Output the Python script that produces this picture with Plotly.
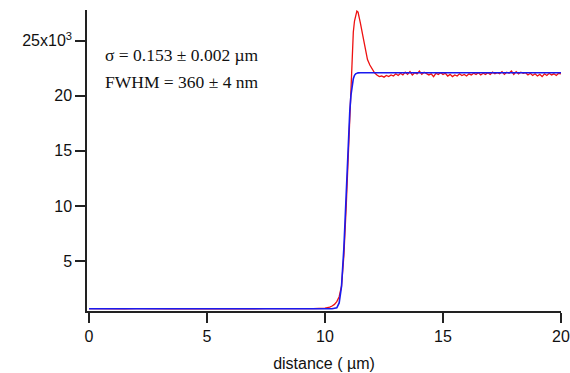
import plotly.graph_objects as go

# ---- data ----
red_base_x = [0, 0.5, 1, 1.5, 2, 2.5, 3, 3.5, 4, 4.5, 5, 5.5, 6, 6.5, 7, 7.5, 8, 8.5, 9, 9.5]
red_base_y = [660, 640, 670, 650, 660, 640, 665, 650, 655, 645, 660, 650, 640, 665, 650, 660, 645, 655, 660, 670]

red_edge_x = [10.0, 10.1, 10.2, 10.3, 10.4, 10.5, 10.6, 10.7, 10.8, 10.9, 11.0, 11.05, 11.1, 11.15,
              11.2, 11.25, 11.3, 11.35, 11.4, 11.45, 11.5, 11.6, 11.7, 11.8, 11.9, 12.0, 12.1]
red_edge_y = [700, 740, 800, 900, 1050, 1300, 1750, 2700, 5500, 10000, 15500, 18500, 21500, 24000,
              25800, 26800, 27400, 27700, 27600, 27200, 26600, 25500, 24500, 23300, 22800, 22400, 22100]

red_plateau_y = [21900, 21750, 21800, 21700, 21850, 21750, 21900, 21800,
                 22000, 21850, 22050, 21900, 22150, 21950, 22200, 21900, 22100, 22000,
                 22250, 21950, 22150, 22050, 21900, 22000, 21750, 22050, 21950, 22100,
                 21950, 22050, 21800, 21950, 21750, 21900, 21800, 22000, 21850, 21950,
                 21800, 22000, 21900, 22050, 21950, 22100, 21900, 22050, 21950, 22100,
                 21950, 22150, 22000, 22100, 22000, 22200, 21950, 22150, 22050, 22250,
                 21950, 22200, 22000, 22150, 22050, 22100, 21900, 22050, 21850, 22000,
                 21800, 21950, 21750, 22000, 21850, 22050, 21900, 22000, 21850, 22050,
                 22000]
red_plateau_x = [round(12.2 + 0.1 * i, 1) for i in range(len(red_plateau_y))]

blue_x = [0, 10.3, 10.5, 10.6, 10.7, 10.75, 10.8, 10.85, 10.9, 10.95, 11.0, 11.05, 11.1, 11.15,
          11.2, 11.25, 11.3, 11.4, 11.5, 20]
blue_y = [650, 650, 747, 1186, 2688, 4157, 6184, 8630, 11375, 14121, 16566, 18593, 20062, 21006,
          21564, 21864, 22003, 22087, 22100, 22100]

y_tickvals = [5000, 10000, 15000, 20000, 25000]
y_ticktext = ["5", "10", "15", "20", "25x10<sup>3</sup>"]
x_tickvals = [0, 5, 10, 15, 20]

annot_lines = ["σ = 0.153 ± 0.002 µm", "FWHM = 360 ± 4 nm"]

red_x = red_base_x + red_edge_x + red_plateau_x
red_y = red_base_y + red_edge_y + red_plateau_y

fig = go.Figure()
fig.add_trace(go.Scatter(x=red_x, y=red_y, mode="lines",
                         line=dict(color="#ee1111", width=1.3), showlegend=False))
fig.add_trace(go.Scatter(x=blue_x, y=blue_y, mode="lines",
                         line=dict(color="#1a1aee", width=1.6), showlegend=False))

tickfont = dict(family="Liberation Sans, Arial, sans-serif", size=16, color="#111")
fig.update_layout(
    width=570, height=373,
    margin=dict(l=87, r=9, t=10, b=62),
    paper_bgcolor="white", plot_bgcolor="white",
    xaxis=dict(range=[-0.085, 20], tickvals=x_tickvals, ticks="outside", ticklen=10,
               tickwidth=1.5, tickcolor="#222", showline=True, linecolor="#222", linewidth=1.5,
               showgrid=False, zeroline=False, tickfont=tickfont, automargin=False,
               title=dict(text="distance ( µm)", font=tickfont, standoff=14)),
    yaxis=dict(range=[450, 27800], tickvals=y_tickvals, ticktext=y_ticktext, ticks="outside",
               ticklen=10, tickwidth=1.5, tickcolor="#222", showline=True, linecolor="#222",
               linewidth=1.5, showgrid=False, zeroline=False, tickfont=tickfont, automargin=False),
)

for i, txt in enumerate(annot_lines):
    fig.add_annotation(x=0.6, y=[23700, 21250][i], xref="x", yref="y", text=txt,
                       showarrow=False, xanchor="left", yanchor="middle",
                       font=dict(family="Liberation Serif, Times New Roman, serif", size=17.5,
                                 color="#111"))

fig.write_html("out.html")
